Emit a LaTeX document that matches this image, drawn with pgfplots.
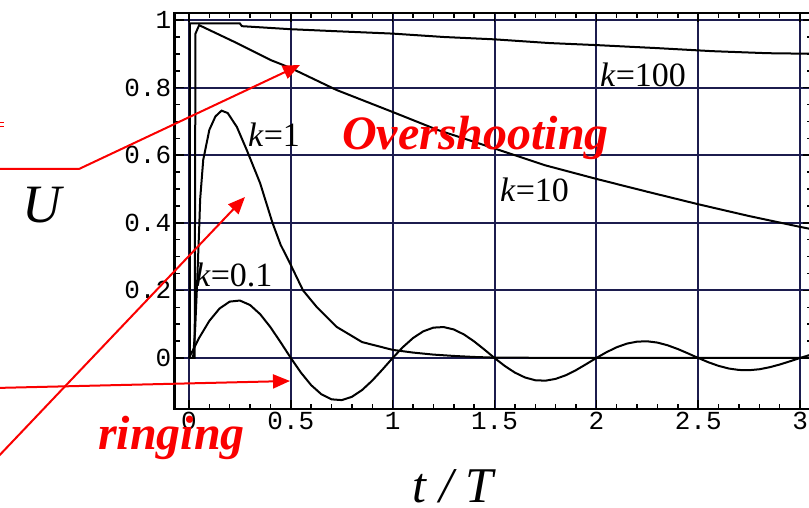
\documentclass[border=0pt]{standalone}
\usepackage{pgfplots}
\pgfplotsset{compat=1.18}
\usepackage{fontspec}
\setmainfont{Liberation Serif}
\newfontfamily\monofont{Liberation Mono}
\usetikzlibrary{arrows.meta}
\definecolor{gridnavy}{RGB}{28,28,78}
\definecolor{annred}{RGB}{250,0,0}
\begin{document}
\begin{tikzpicture}[x=1pt,y=1pt]
\path[use as bounding box] (0pt,0pt) rectangle (809pt,508pt);
\clip (0pt,0pt) rectangle (809pt,508pt);
\begin{axis}[at={(174.7pt,99pt)}, anchor=south west, scale only axis,
  width=637.6pt, height=396pt,
  xmin=-0.07, xmax=3.06, ymin=-0.151, ymax=1.021,
  xtick={0,0.5,1,1.5,2,2.5,3}, ytick={0,0.2,0.4,0.6,0.8,1},
  minor x tick num=4, minor y tick num=3,
  tick align=inside, major tick length=9pt, minor tick length=5pt,
  tick style={black, line width=1.5pt},
  grid=major, major grid style={gridnavy, line width=2pt},
  axis line style={black, line width=2.8pt},
  /pgf/number format/assume math mode=true,
  ticklabel style={font=\monofont\fontsize{26}{28}\selectfont},
]
% k = 100
\addplot[black, line width=2pt] coordinates {
 (0,0) (0.005,0) (0.005,0.99) (0.25,0.99) (0.26,0.982) (0.5,0.973) (0.725,0.967)
 (1.0,0.96) (1.25,0.95) (1.5,0.943) (1.77,0.932) (2.0,0.926) (2.3,0.917)
 (2.57,0.908) (2.84,0.902) (3.1,0.90)};
% k = 10
\addplot[black, line width=2pt] coordinates {
 (0,0) (0.028,0) (0.032,0.96) (0.05,0.985) (0.235,0.932) (0.40,0.882) (0.5,0.858)
 (0.725,0.793) (1.0,0.728) (1.22,0.675) (1.5,0.62) (1.75,0.57) (2.0,0.53)
 (2.25,0.492) (2.5,0.455) (2.75,0.42) (3.0,0.388) (3.1,0.376)};
% k = 1
\addplot[black, line width=2pt] coordinates {
 (0,0) (0.02,0) (0.03,0.08) (0.04,0.22) (0.05,0.38) (0.055,0.47) (0.07,0.586)
 (0.1,0.675) (0.13,0.715) (0.16,0.732) (0.19,0.725) (0.235,0.684) (0.284,0.615)
 (0.349,0.518) (0.41,0.40) (0.45,0.335) (0.496,0.28) (0.56,0.2) (0.627,0.151)
 (0.725,0.092) (0.85,0.047) (1.0,0.024) (1.1,0.016) (1.2,0.01) (1.3,0.006)
 (1.4,0.003) (1.5,0.001) (2.0,0) (3.1,0)};
% k = 0.1
\addplot[black, line width=2pt] coordinates {
 (0,0) (0.05,0.0595) (0.10,0.1097) (0.15,0.1463) (0.20,0.1668) (0.25,0.17)
 (0.30,0.1567) (0.35,0.1293) (0.40,0.0911) (0.45,0.0464) (0.50,0)
 (0.55,-0.0436) (0.60,-0.0805) (0.65,-0.1074) (0.70,-0.1224) (0.75,-0.1247)
 (0.80,-0.115) (0.85,-0.0948) (0.90,-0.0668) (0.95,-0.0341) (1.00,0)
 (1.05,0.032) (1.10,0.059) (1.15,0.0788) (1.20,0.0898) (1.25,0.0915)
 (1.30,0.0844) (1.35,0.0696) (1.40,0.049) (1.45,0.025) (1.50,0)
 (1.55,-0.0235) (1.60,-0.0433) (1.65,-0.0578) (1.70,-0.0659) (1.75,-0.0672)
 (1.80,-0.0619) (1.85,-0.0511) (1.90,-0.036) (1.95,-0.0183) (2.00,0)
 (2.05,0.0172) (2.10,0.0318) (2.15,0.0425) (2.20,0.0484) (2.25,0.0493)
 (2.30,0.0455) (2.35,0.0375) (2.40,0.0264) (2.45,0.0135) (2.50,0)
 (2.55,-0.0127) (2.60,-0.0234) (2.65,-0.0312) (2.70,-0.0355) (2.75,-0.0362)
 (2.80,-0.0334) (2.85,-0.0275) (2.90,-0.0194) (2.95,-0.0099) (3.00,0)
 (3.05,0.0093)};
\end{axis}
% curve labels
\begin{scope}[every node/.style={anchor=base west, inner sep=0pt, font=\fontsize{34}{36}\selectfont}]
\node at (600pt,421pt) {\textit{k}=100};
\node at (500pt,306pt) {\textit{k}=10};
\node at (248pt,361pt) {\textit{k}=1};
\node at (195pt,221pt) {\textit{k}=0.1};
\end{scope}
% axis labels
\node[anchor=base, inner sep=0pt, font=\fontsize{54}{56}\selectfont\itshape] at (42pt,285pt) {U};
\node[anchor=base, inner sep=0pt, font=\fontsize{50}{52}\selectfont\itshape] at (453pt,5pt) {t / T};
% red annotations
\draw[annred, line width=2pt, -{Triangle[length=17pt,width=14pt]}] (-5pt,339pt) -- (79pt,339pt) -- (300pt,443pt);
\draw[annred, line width=2pt, -{Triangle[length=17pt,width=14pt]}] (-5pt,48pt) -- (245pt,311pt);
\draw[annred, line width=2pt, -{Triangle[length=17pt,width=14pt]}] (-5pt,120pt) -- (290pt,127pt);
\draw[annred, line width=1pt] (0pt,385pt) -- (4pt,385pt) (0pt,381pt) -- (4pt,381pt);
\node[annred, anchor=base west, inner sep=0pt, font=\fontsize{48}{50}\selectfont\bfseries\itshape] at (342pt,358pt) {Overshooting};
\node[annred, anchor=base west, inner sep=0pt, font=\fontsize{48}{50}\selectfont\bfseries\itshape] at (98pt,58pt) {ringing};
\end{tikzpicture}
\end{document}
